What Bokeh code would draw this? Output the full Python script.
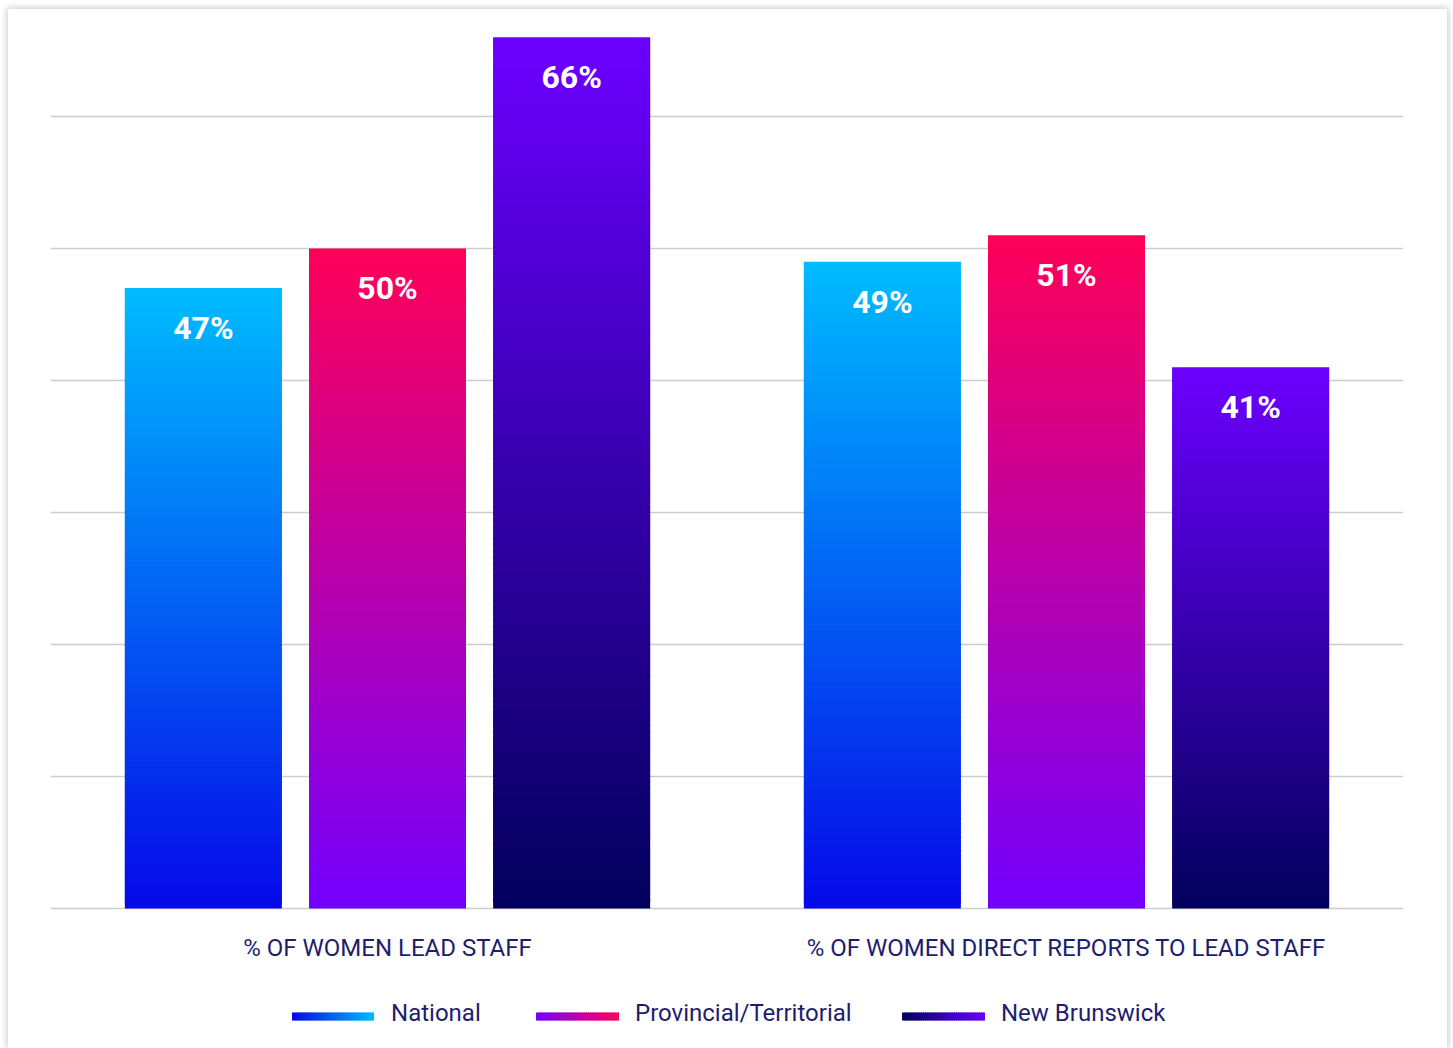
from bokeh.plotting import figure
from bokeh.models import FactorRange, Range1d, Grid, FixedTicker, ColumnDataSource
from bokeh.transform import dodge
from bokeh.core.properties import value
from bokeh.embed import file_html
from bokeh.resources import INLINE

# ---- data -------------------------------------------------------------
groups = ["% OF WOMEN LEAD STAFF", "% OF WOMEN DIRECT REPORTS TO LEAD STAFF"]
series = ["National", "Provincial/Territorial", "New Brunswick"]
national = [47, 49]
provincial = [50, 51]
new_brunswick = [66, 41]
series_values = [national, provincial, new_brunswick]

# gradient end colours for each series: (top, bottom)
grad_top = ["#00BCFF", "#FF0057", "#6C00FF"]
grad_bottom = ["#0508E8", "#7200FF", "#02005C"]

grid_ticks = [0, 10, 20, 30, 40, 50, 60]

# ---- style ------------------------------------------------------------
TEXT_COLOR = "#1E1E6E"
FONT = "Roboto"
N_SLICES = 140
BAR_WIDTH = 0.2312
BAR_STEP = 0.2712
offsets = [-BAR_STEP, 0.0, BAR_STEP]


def hex_to_rgb(h):
    h = h.lstrip("#")
    return tuple(int(h[i:i + 2], 16) for i in (0, 2, 4))


def mix(c_from, c_to, t):
    a, b = hex_to_rgb(c_from), hex_to_rgb(c_to)
    return "#%02x%02x%02x" % tuple(round(a[k] + (b[k] - a[k]) * t) for k in range(3))


p = figure(
    width=1439, height=1039,
    x_range=FactorRange(*groups, range_padding=-0.0037, range_padding_units="absolute"),
    y_range=Range1d(-10, 67.27),
    x_axis_location=None, y_axis_location=None,
    output_backend="svg", toolbar_location=None,
    min_border_left=42, min_border_right=44, min_border_top=11, min_border_bottom=8,
)
p.margin = (9, 6, 0, 8)
p.styles = {"box-shadow": "0 0 7px 1px rgba(0,0,0,0.22)"}
p.outline_line_color = None
p.background_fill_color = "white"
p.border_fill_color = "white"

# horizontal rules only
p.center = [r for r in p.center if not isinstance(r, Grid)]
p.add_layout(Grid(dimension=1, ticker=FixedTicker(ticks=grid_ticks),
                  grid_line_color="#CDCDCD", grid_line_width=1.5))

# ---- gradient bars (stacked thin slices) ------------------------------
for si, vals in enumerate(series_values):
    xs, bottoms, tops, colors = [], [], [], []
    for g, v in zip(groups, vals):
        for i in range(N_SLICES):
            t = (i + 0.5) / N_SLICES
            xs.append(g)
            bottoms.append(v * i / N_SLICES)
            tops.append(min(v, v * (i + 1.8) / N_SLICES))
            colors.append(mix(grad_bottom[si], grad_top[si], t))
    src = ColumnDataSource(dict(x=xs, bottom=bottoms, top=tops, color=colors))
    p.vbar(x=dodge("x", offsets[si], range=p.x_range), bottom="bottom", top="top",
           width=BAR_WIDTH, fill_color="color", line_color=None, source=src)

    lab = ColumnDataSource(dict(x=groups, y=[v - 3.03 for v in vals],
                                text=[f"{v}%" for v in vals]))
    p.text(x=dodge("x", offsets[si], range=p.x_range), y="y", text="text", source=lab,
           text_color="white", text_font=value(FONT), text_font_style="bold",
           text_font_size="32px", text_align="center", text_baseline="middle")

# ---- category labels --------------------------------------------------
p.text(x=groups, y=[-3.03] * len(groups), text=groups,
       text_color=TEXT_COLOR, text_font=value(FONT), text_font_size="24px",
       text_align="center", text_baseline="middle")

# ---- legend with gradient swatches -------------------------------------
swatch_left = [0.3594, 0.7187, 1.2578]
swatch_right = [0.4802, 0.8410, 1.3800]
legend_text_x = [0.5052, 0.8645, 1.4035]
SW_Y, SW_H = -8.18, 0.6
for si, name in enumerate(series):
    n = 40
    l0, r0 = swatch_left[si], swatch_right[si]
    step = (r0 - l0) / n
    lefts = [l0 + step * k for k in range(n)]
    rights = [min(r0, l0 + step * (k + 1.6)) for k in range(n)]
    cols = [mix(grad_bottom[si], grad_top[si], (k + 0.5) / n) for k in range(n)]
    p.quad(left=lefts, right=rights, bottom=SW_Y - SW_H / 2, top=SW_Y + SW_H / 2,
           fill_color=cols, line_color=None)
    p.text(x=[legend_text_x[si]], y=[-7.95], text=[name],
           text_color=TEXT_COLOR, text_font=value(FONT), text_font_size="24px",
           text_align="left", text_baseline="middle")

open("out.html", "w").write(file_html(p, INLINE))
